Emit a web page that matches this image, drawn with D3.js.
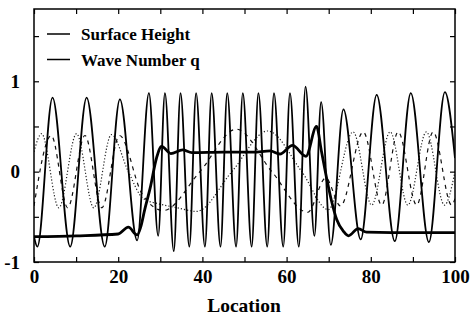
<!DOCTYPE html>
<html>
<head>
<meta charset="utf-8">
<script src="https://cdn.jsdelivr.net/npm/d3@7"></script>
<style>
  body { margin: 0; background: #fff; }
  svg text { font-family: "Liberation Serif", "Times New Roman", Times, serif; font-weight: bold; }
</style>
</head>
<body>
<div id="frame"></div>
<script>
// surface height: extrema
var heightX = [0, 0.8, 4.4, 8.6, 12.5, 16.8, 20.4, 24.5, 27.3, 29.5, 31.1, 33.2, 34.8, 36.9, 38.5, 40.6, 42.2, 44.3, 45.9, 48.0, 49.6, 51.7, 53.3, 55.4, 57.0, 59.2, 60.8, 62.9, 64.5, 66.6, 68.2, 70.5, 73.5, 77.6, 81.4, 85.7, 89.5, 93.8, 97.6, 100];
var heightY = [-0.72, -0.83, 0.82, -0.83, 0.82, -0.83, 0.80, -0.76, 0.87, -0.71, 0.87, -0.88, 0.87, -0.83, 0.87, -0.83, 0.87, -0.83, 0.87, -0.83, 0.87, -0.83, 0.87, -0.83, 0.87, -0.83, 0.87, -0.83, 0.94, -0.71, 0.77, -0.81, 0.69, -0.75, 0.85, -0.77, 0.87, -0.78, 0.88, 0.15];

// wave number q
var qX = [0, 10, 20, 22.4, 24.5, 25.3, 26.3, 27.6, 29.1, 30.3, 32.5, 35.3, 37.5, 45, 52, 56.1, 58.4, 61.4, 64.6, 67.1, 68.3, 69.5, 70.7, 71.9, 73.5, 74.7, 77, 79, 85, 100];
var qY = [-0.72, -0.71, -0.69, -0.615, -0.70, -0.62, -0.42, -0.18, 0.15, 0.28, 0.20, 0.24, 0.21, 0.215, 0.215, 0.23, 0.195, 0.29, 0.17, 0.50, 0.22, -0.07, -0.33, -0.53, -0.66, -0.71, -0.63, -0.67, -0.675, -0.675];

// dotted and dashed curves
var dottedX = [0, 1.8, 5.9, 10.1, 14.2, 18.4, 22.4, 26, 30, 34, 38.6, 47, 55.5, 63.6, 69.9, 75.8, 80.2, 84.6, 88.8, 93.2, 97.5, 100];
var dottedY = [0.22, 0.42, -0.40, 0.42, -0.40, 0.41, 0.0, -0.30, -0.36, -0.40, -0.44, 0.0, 0.45, 0.0, -0.42, 0.44, -0.37, 0.44, -0.37, 0.44, -0.37, 0.0];

var dashedX = [0, 4.1, 8.0, 12.1, 16.1, 20.3, 25.6, 30.7, 39.4, 48.1, 56.5, 65, 69.3, 72.8, 78.2, 82.6, 86.5, 90.9, 94.8, 99.2, 100];
var dashedY = [-0.38, 0.40, -0.40, 0.40, -0.40, 0.40, -0.24, -0.43, 0.0, 0.47, 0.0, -0.45, -0.07, -0.38, 0.44, -0.37, 0.44, -0.37, 0.44, -0.37, -0.30];

var xTicks = [0, 10, 20, 30, 40, 50, 60, 70, 80, 90, 100];
var yTicks = [-1, -0.5, 0, 0.5, 1, 1.5];
var legendLabels = ["Surface Height", "Wave Number q"];

var width = 471, height = 320;
var margin = {top: 9, right: 16, bottom: 58, left: 34};
var w = width - margin.left - margin.right;
var h = height - margin.top - margin.bottom;
var serif = '"Liberation Serif", "Times New Roman", Times, serif';

var svg = d3.select('#frame').append('svg').attr('width', width).attr('height', height);
var g = svg.append('g').attr('transform', 'translate(' + margin.left + ',' + margin.top + ')');

var x = d3.scaleLinear().domain([0, 100]).range([0, w]);
var y = d3.scaleLinear().domain([-1, 1.8]).range([h, 0]);

function zip(xs, ys) {
  return xs.map(function(d, i) { return [d, ys[i]]; });
}

var line = d3.line()
  .x(function(d) { return x(d[0]); })
  .y(function(d) { return y(d[1]); })
  .curve(d3.curveMonotoneX);

g.append('defs').append('clipPath').attr('id', 'clip')
  .append('rect').attr('width', w).attr('height', h);
var plot = g.append('g').attr('clip-path', 'url(#clip)');

plot.append('path').datum(zip(dottedX, dottedY))
  .attr('d', line).attr('fill', 'none')
  .attr('stroke', '#222').attr('stroke-width', 1.2)
  .attr('stroke-dasharray', '1.2,2');

plot.append('path').datum(zip(dashedX, dashedY))
  .attr('d', line).attr('fill', 'none')
  .attr('stroke', '#111').attr('stroke-width', 1.2)
  .attr('stroke-dasharray', '4,4.5');

plot.append('path').datum(zip(heightX, heightY))
  .attr('d', line).attr('fill', 'none')
  .attr('stroke', '#000').attr('stroke-width', 1.8);

plot.append('path').datum(zip(qX, qY))
  .attr('d', line).attr('fill', 'none')
  .attr('stroke', '#000').attr('stroke-width', 2.8);

// axes, ticks pointing in
var fmtX = function(d) { return d % 20 === 0 ? d : ''; };
var fmtY = function(d) { return d === -1 ? '-1' : (d === 0 ? '0' : (d === 1 ? '1' : '')); };

var bottom = g.append('g').attr('transform', 'translate(0,' + h + ')')
  .call(d3.axisBottom(x).tickValues(xTicks).tickFormat(fmtX).tickSizeInner(-5).tickSizeOuter(0).tickPadding(8));
var top = g.append('g')
  .call(d3.axisTop(x).tickValues(xTicks).tickFormat('').tickSizeInner(-5).tickSizeOuter(0));
var left = g.append('g')
  .call(d3.axisLeft(y).tickValues(yTicks).tickFormat(fmtY).tickSizeInner(-5).tickSizeOuter(0).tickPadding(14));
var right = g.append('g').attr('transform', 'translate(' + w + ',0)')
  .call(d3.axisRight(y).tickValues(yTicks).tickFormat('').tickSizeInner(-5).tickSizeOuter(0));

g.selectAll('.domain').remove();
g.selectAll('.tick line').attr('stroke', '#000').attr('stroke-width', 1.2);
g.selectAll('g').attr('font-family', serif);
g.selectAll('.tick text')
  .attr('fill', '#000')
  .attr('font-family', serif)
  .attr('font-weight', 'bold')
  .attr('font-size', 19);

g.append('rect').attr('width', w).attr('height', h)
  .attr('fill', 'none').attr('stroke', '#000').attr('stroke-width', 1.5);

// legend
legendLabels.forEach(function(label, i) {
  var ly = 34 + i * 25.5;
  svg.append('line')
    .attr('x1', 47).attr('x2', 70).attr('y1', ly).attr('y2', ly)
    .attr('stroke', '#000').attr('stroke-width', 1.5);
  svg.append('text')
    .attr('x', 81).attr('y', ly + 6)
    .attr('font-family', serif).attr('font-weight', 'bold')
    .attr('font-size', 17)
    .text(label);
});

svg.append('text')
  .attr('x', 244).attr('y', 312)
  .attr('text-anchor', 'middle')
  .attr('font-family', serif).attr('font-weight', 'bold')
  .attr('font-size', 19.5)
  .text('Location');
</script>
</body>
</html>
